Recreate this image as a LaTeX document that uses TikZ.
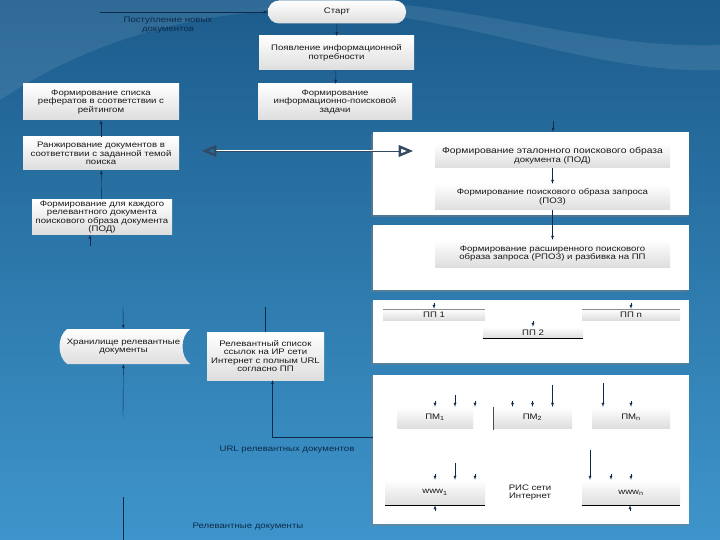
\documentclass[tikz,border=0pt]{standalone}
\usepackage{fontspec}
\setmainfont{Liberation Sans}[FakeStretch=1.2]
\usetikzlibrary{arrows,shapes,shadows}
\definecolor{bgtop}{HTML}{1C5C8C}
\definecolor{bgbot}{HTML}{3E95CB}
\definecolor{ink}{HTML}{0E2A48}
\tikzstyle{box} = [top color=white, bottom color=black!13, inner sep=1pt, align=center, text=black!90]
\tikzstyle{panel} = [fill=white, inner sep=0pt, drop shadow={shadow xshift=-2pt,shadow yshift=-2pt,opacity=.45}]
\tikzstyle{conn} = [->, >=latex, ink, thin]
\tikzstyle{lbl} = [text=ink, align=center]
\tikzstyle{stored} = [align=center, text=black!90, path picture={
    \shade[top color=white, bottom color=black!13]
      ([xshift=10pt]path picture bounding box.north west) -- (path picture bounding box.north east)
      .. controls ([xshift=-10pt,yshift=-8pt]path picture bounding box.north east) and ([xshift=-10pt,yshift=8pt]path picture bounding box.south east) .. (path picture bounding box.south east)
      -- ([xshift=10pt]path picture bounding box.south west)
      .. controls ([yshift=8pt]path picture bounding box.south west) and ([yshift=-8pt]path picture bounding box.north west) .. ([xshift=10pt]path picture bounding box.north west) -- cycle;
  }]

\begin{document}
\begin{tikzpicture}[x=1pt,y=-1pt,font=\fontsize{8}{8.6}\selectfont]

    %background
    \useasboundingbox (0,0) rectangle (720,540);
    \shade[top color=bgtop, bottom color=bgbot] (0,0) rectangle (720,540);
    \fill[white,opacity=.09] (0,100) .. controls (90,40) and (200,8) .. (320,10)
      .. controls (470,14) and (590,75) .. (720,70) -- (720,45)
      .. controls (590,50) and (470,0) .. (320,0) -- (0,0) -- cycle;

    %query side
    \node[box, rounded corners=11pt, minimum width=138, minimum height=23] (start) at (337,12) {Старт};
    \coordinate (newin) at (100,12);
    \draw[conn] (newin) -- (start);
    \node[lbl] (newlbl) at (168,25) {Поступление новых\\документов};
    \node[box, minimum width=155, minimum height=34] (need) at (336.5,53) {Появление информационной\\потребности};
    \node[box, minimum width=154, minimum height=36] (task) at (335,102) {Формирование\\информационно-поисковой\\задачи};
    \draw[conn] (start) -- (need);
    \draw[conn] (need) -- (task);

    %ranking
    \node[box, minimum width=156, minimum height=36] (refs) at (101,102) {Формирование списка\\рефератов в соответствии с\\рейтингом};
    \node[box, minimum width=156, minimum height=33] (rank) at (101,153.5) {Ранжирование документов в\\соответствии с заданной темой\\поиска};
    \node[box, minimum width=140, minimum height=34] (each) at (102,217) {Формирование для каждого\\релевантного документа\\поискового образа документа\\(ПОД)};
    \draw[conn] (rank) -- (refs);
    \draw[conn] (each) -- (rank);
    \coordinate (eachin) at (90,246);
    \draw[conn] (eachin) -- (eachin |- each.south);

    %search images
    \node[panel, minimum width=316, minimum height=83] (pA) at (531,173.5) {};
    \node[panel, minimum width=316, minimum height=65] (pB) at (531,257.5) {};
    \node[box, minimum width=235, minimum height=25] (pod) at (552.5,155.5) {\fontsize{8.6}{9}\selectfont Формирование эталонного поискового образа\\документа (ПОД)};
    \node[box, minimum width=235, minimum height=26] (poz) at (552.5,197) {Формирование поискового образа запроса\\(ПОЗ)};
    \node[box, minimum width=235, minimum height=27] (rpoz) at (552.5,253.5) {Формирование расширенного поискового\\образа запроса (РПОЗ) и разбивка на ПП};
    \coordinate (taskout) at (553,121);
    \draw[conn] (taskout) -- (taskout |- pA.north);
    \draw[conn] (pod) -- (poz);
    \draw[conn] (poz) -- (rpoz);
    \coordinate (cmpl) at (202,151);
    \coordinate (cmpr) at (413,151);
    \draw[<->, >=open triangle 45, draw=ink!85, double=white, double distance=1pt, line width=.7pt] (cmpl) -- (cmpr);

    %subqueries
    \node[panel, minimum width=316, minimum height=63] (pC) at (531,331.5) {};
    \node[box, minimum width=102, minimum height=11, inner sep=0pt] (pp1) at (434,314.5) {ПП 1};
    \node[box, minimum width=100, minimum height=11, inner sep=0pt] (pp2) at (533,332.5) {ПП 2};
    \node[box, minimum width=98, minimum height=11, inner sep=0pt] (ppn) at (631,314.5) {ПП n};
    \draw[black!45] (pp1.north west) -- (pp1.north east);
    \draw[black!45] (ppn.north west) -- (ppn.north east);
    \draw[black, semithick] (pp2.south west) -- (pp2.south east);
    \foreach \n in {pp1,pp2,ppn}
      \draw[conn] ([yshift=6pt]\n.north) -- (\n.north);

    %search machines and sites
    \node[panel, minimum width=316, minimum height=149] (pD) at (531,449.5) {};
    \node[box, minimum width=76, minimum height=21] (pm1) at (435,417.5) {ПМ\textsubscript{1}};
    \node[box, minimum width=79, minimum height=21] (pm2) at (532.5,417.5) {ПМ\textsubscript{2}};
    \node[box, minimum width=78, minimum height=21] (pmn) at (631,417.5) {ПМ\textsubscript{n}};
    \draw[black!70] (pm2.north west) -- ([yshift=-2pt]pm2.south west);
    \node[box, minimum width=100, minimum height=25] (www1) at (435,492.5) {www\textsubscript{1}};
    \node[lbl, text=black!90] (ris) at (530,492.5) {РИС сети\\Интернет};
    \node[box, minimum width=98, minimum height=25] (wwwn) at (631,492.5) {www\textsubscript{n}};
    \draw[black, semithick] (www1.south west) -- (www1.south east);
    \draw[black, semithick] (wwwn.south west) -- (wwwn.south east);
    \foreach \d/\l in {0/6,20/12,40/6}
      \draw[conn] ([xshift=\d pt, yshift=\l pt]pm1.north) -- ([xshift=\d pt]pm1.north);
    \foreach \d/\l in {-20/6,0/6,20/22}
      \draw[conn] ([xshift=\d pt, yshift=\l pt]pm2.north) -- ([xshift=\d pt]pm2.north);
    \foreach \d/\l in {-28/24,0/6}
      \draw[conn] ([xshift=\d pt, yshift=\l pt]pmn.north) -- ([xshift=\d pt]pmn.north);
    \foreach \d/\l in {0/6,20/17,40/6}
      \draw[conn] ([xshift=\d pt, yshift=\l pt]www1.north) -- ([xshift=\d pt]www1.north);
    \foreach \d/\l in {-41/30,-20/6,0/6}
      \draw[conn] ([xshift=\d pt, yshift=\l pt]wwwn.north) -- ([xshift=\d pt]wwwn.north);
    \draw[conn] ([yshift=-6pt]www1.south) -- (www1.south);
    \draw[conn] ([xshift=-1pt, yshift=-6pt]wwwn.south) -- ([xshift=-1pt]wwwn.south);

    %results
    \node[stored, minimum width=133, minimum height=35] (store) at (123.5,346.5) {Хранилище релевантные\\документы};
    \node[box, minimum width=117, minimum height=48] (links) at (265.5,356) {Релевантный список\\ссылок на ИР сети\\Интернет с полным URL\\согласно ПП};
    \coordinate (storein) at (123,307);
    \coordinate (storeup) at (123,417);
    \draw[conn] (storein) -- (store);
    \draw[conn] (storeup) -- (store);
    \coordinate (linksup) at (265.5,307);
    \draw[ink, thin] (linksup) -- (links);
    \coordinate (urlout) at (pD.west |- 0,437);
    \draw[conn] (urlout) -| ([xshift=7pt]links.south);
    \node[lbl] (urllbl) at (287,450) {URL релевантных документов};
    \coordinate (reltop) at (123,497);
    \coordinate (relbot) at (123,540);
    \draw[ink, thin] (reltop) -- (relbot);
    \node[lbl] (rellbl) at (248,527) {Релевантные документы};

  \end{tikzpicture}
\end{document}
